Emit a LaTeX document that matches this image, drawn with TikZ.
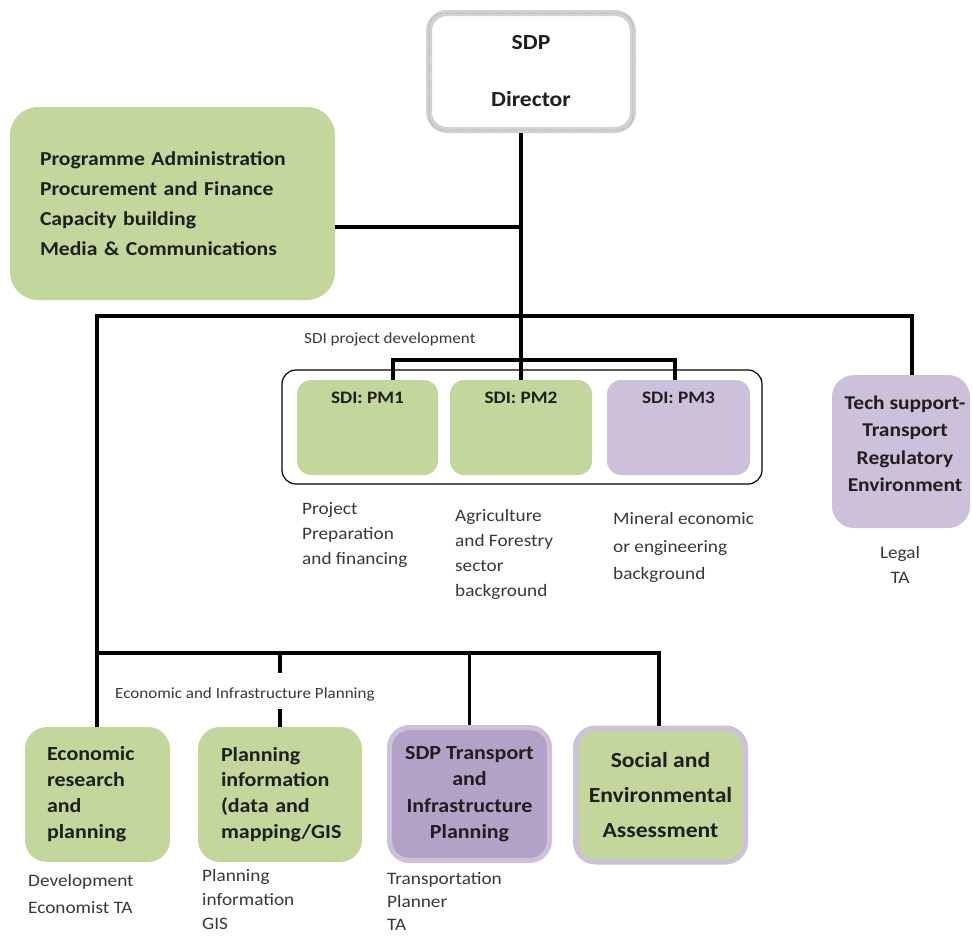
\documentclass[tikz,border=0pt]{standalone}
\usepackage{fontspec}
\setmainfont{Carlito}[FakeStretch=1.1]
\definecolor{gr}{HTML}{C3D69B}
\definecolor{lp}{HTML}{CCC0DA}
\definecolor{dp}{HTML}{B3A2C7}
\definecolor{txt}{HTML}{1F1F1F}
\definecolor{lt}{HTML}{383838}
\newcommand\fsz[2]{\fontsize{#1}{#2}\selectfont}
\tikzset{
  gbox/.style={fill=gr, draw=none},
  pbox/.style={fill=lp, draw=none},
  conn/.style={line width=3.5pt, black},
  desc/.style={anchor=north west, align=left, text=lt},
}
\begin{document}
\begin{tikzpicture}[x=1pt, y=-1pt, every node/.style={inner sep=0pt, text=txt}]
\useasboundingbox (0,0) rectangle (972,935);

% Director
\node[draw=gray!35, line width=6pt, fill=white, rounded corners=18pt,
  minimum width=204pt, minimum height=117pt, align=center,
  font=\fsz{21.5}{57}\bfseries] (dir) at (531,71.5) {SDP\\Director};
\draw[gray!70, line width=0.8pt, densely dotted, rounded corners=15pt]
  ([xshift=3pt,yshift=-3pt]dir.north west) rectangle ([xshift=-3pt,yshift=3pt]dir.south east);

% Admin box
\node[gbox, rounded corners=28pt, minimum width=325pt, minimum height=193pt,
  text width=265pt, align=left, font=\fsz{19.7}{30}\bfseries] (admin) at (172.5,203.5)
  {Programme Administration\\Procurement and Finance\\Capacity building\\Media \& Communications};

% SDI group
\node[draw, line width=1.2pt, rounded corners=14pt, minimum width=480pt, minimum height=114pt] (grp) at (522,427) {};
\node[gbox, rounded corners=14pt, minimum width=141pt, minimum height=95pt] (pm1) at (367.5,427.5) {};
\node[gbox, rounded corners=14pt, minimum width=142pt, minimum height=95pt] (pm2) at (521,427.5) {};
\node[pbox, rounded corners=14pt, minimum width=143pt, minimum height=95pt] (pm3) at (678.5,427.5) {};
\node[font=\fsz{17.5}{20}\bfseries] (pm1t) at (367.5,398) {SDI: PM1};
\node[font=\fsz{17.5}{20}\bfseries] (pm2t) at (521,398) {SDI: PM2};
\node[font=\fsz{17.5}{20}\bfseries] (pm3t) at (678.5,398) {SDI: PM3};

\node[anchor=base west, font=\fsz{15.5}{18}, text=lt] (sdil) at (304,343) {SDI project development};

% Tech support
\node[pbox, rounded corners=22pt, minimum width=138pt, minimum height=153pt] (ts) at (901,451.5) {};
\node[align=center, font=\fsz{19.5}{27.5}\bfseries] (tst) at (905,443.5)
  {Tech support-\\Transport\\Regulatory\\Environment};
\node[anchor=north, align=center, font=\fsz{17.5}{25}, text=lt] (legal) at (900,546.5) {Legal\\TA};

% descriptions under PMs
\node[desc, font=\fsz{17.5}{25}] (d1) at (302,502.5) {Project\\Preparation\\and financing};
\node[desc, font=\fsz{17.5}{25}] (d2) at (455,509.5) {Agriculture\\and Forestry\\sector\\background};
\node[desc, font=\fsz{17.5}{27.5}] (d3) at (613,512.5) {Mineral economic\\or engineering\\background};

% bottom boxes
\node[gbox, rounded corners=22pt, minimum width=145pt, minimum height=135pt,
  text width=101pt, align=left, font=\fsz{20}{26}\bfseries] (econ) at (97.5,794.5)
  {Economic\\research\\and\\planning};
\node[gbox, rounded corners=22pt, minimum width=164pt, minimum height=135pt,
  text width=118pt, align=left, font=\fsz{20}{25.7}\bfseries] (plan) at (280,794.5)
  {Planning\\information\\(data and\\mapping/GIS};
\node[fill=dp, draw=lp, line width=5pt, rounded corners=20pt, minimum width=160pt, minimum height=133pt,
  align=center, font=\fsz{20}{26.5}\bfseries] (trans) at (469.5,794)
  {SDP Transport\\and\\Infrastructure\\Planning};
\node[fill=gr, draw=lp, line width=5pt, rounded corners=20pt, minimum width=170pt, minimum height=134pt,
  align=center, font=\fsz{21.5}{35}\bfseries] (soc) at (660.5,795)
  {Social and\\Environmental\\Assessment};

\node[anchor=base west, font=\fsz{15.5}{18}, text=lt] (eil) at (115,698) {Economic and Infrastructure Planning};

\node[desc, font=\fsz{17.5}{27}] (d4) at (28,874.5) {Development\\Economist TA};
\node[desc, font=\fsz{17.5}{24}] (d5) at (202,869.5) {Planning\\information\\GIS};
\node[desc, font=\fsz{17.5}{23}] (d6) at (387,872) {Transportation\\Planner\\TA};

% connectors
\coordinate (j1) at (521,227);
\coordinate (tl) at (97,316);
\coordinate (tr) at (912,316);
\coordinate (bl) at (97,653);
\coordinate (br) at (659,653);
\coordinate (b1) at (393,360);
\coordinate (b3) at (675,360);

\draw[conn] (dir.south -| pm2.north) -- (pm2.north);
\draw[conn] (admin.east |- j1) -- (j1);
\draw[conn] (tr |- ts.north) -- (tr) -- (tl) -- (tl |- econ.north);
\draw[conn] (b1 |- pm1.north) -- (b1) -- (b3) -- (b3 |- pm3.north);
\draw[conn] (bl) -- (br) -- (br |- soc.north);
\draw[conn] (bl -| trans.north) -- (trans.north);
\draw[conn] (bl -| plan.north) -- ++(0,20);
\draw[conn] (plan.north) -- ++(0,-18);
\end{tikzpicture}
\end{document}
